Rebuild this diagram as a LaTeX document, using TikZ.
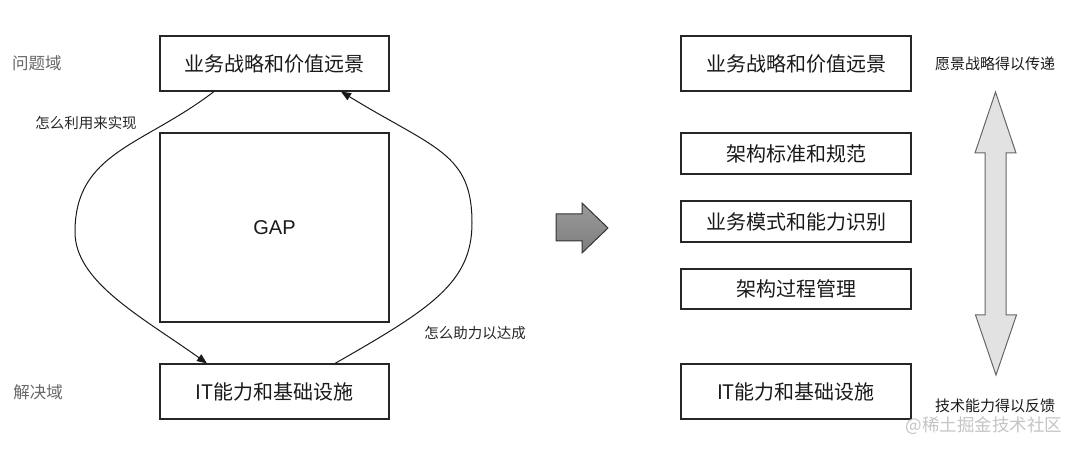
\documentclass[tikz,border=0pt]{standalone}
\usepackage{fontspec}
\setmainfont{Noto Sans CJK SC}
\newfontfamily\latinfont{Liberation Sans}
\usetikzlibrary{arrows.meta}
\definecolor{arrowtop}{HTML}{9A9A9A}
\definecolor{arrowbot}{HTML}{7E7E7E}
\definecolor{dblfill}{HTML}{E2E2E2}
\definecolor{dbledge}{HTML}{666666}
\definecolor{wmark}{HTML}{C4C4C4}
\begin{document}
\begin{tikzpicture}[x=1pt,y=-1pt,
  box/.style={draw=black!85, line width=1.1pt, minimum width=229pt, inner sep=0pt,
    font=\fontsize{20}{24}\selectfont, text=black!90},
  lbl/.style={font=\fontsize{14.5}{17}\selectfont, text=black!85, inner sep=0pt},
  dom/.style={font=\fontsize{16.5}{19}\selectfont, text=black!60, inner sep=0pt},
  conn/.style={line width=1pt, draw=black!90, -{Triangle[length=10pt,width=8pt]}}]
\useasboundingbox (0,0) rectangle (1080,449);

% left side
\node[box, minimum height=55pt] (ltop) at (274.5,63.5) {业务战略和价值远景};
\node[box, minimum height=189pt, font=\latinfont\fontsize{20}{24}\selectfont] (gap) at (274.5,227.5) {GAP};
\node[box, minimum height=55pt] (lbot) at (274.5,391.5) {IT能力和基础设施};

\node[dom] (prob) at (37,63) {问题域};
\node[dom] (sol) at (38,392) {解决域};
\node[lbl] (how1) at (86,123) {怎么利用来实现};
\node[lbl] (how2) at (475,333) {怎么助力以达成};

\draw[conn] ([xshift=-60.5pt]ltop.south) .. controls (143,146) and (75,152) .. (75,232)
  .. controls (75,282) and (142,317) .. ([xshift=-67.5pt]lbot.north);
\draw[conn] ([xshift=60.5pt]lbot.north) .. controls (430,309) and (472,283) .. (472,223)
  .. controls (472,153) and (435,149) .. ([xshift=66.5pt]ltop.south);

% middle block arrow
\shadedraw[top color=arrowtop, bottom color=arrowbot, draw=black!80, line width=1pt, line join=miter]
  (556,214) -- (582,214) -- (582,203) -- (608,228) -- (582,253) -- (582,241) -- (556,241) -- cycle;

% right side
\node[box, minimum width=230pt, minimum height=55pt] (rtop) at (796,63.5) {业务战略和价值远景};
\node[box, minimum width=230pt, minimum height=41pt] (r1) at (796,153.5) {架构标准和规范};
\node[box, minimum width=230pt, minimum height=41pt] (r2) at (796,221.5) {业务模式和能力识别};
\node[box, minimum width=230pt, minimum height=40pt] (r3) at (796,289) {架构过程管理};
\node[box, minimum width=230pt, minimum height=55pt] (rbot) at (796,391.5) {IT能力和基础设施};

% double arrow
\filldraw[fill=dblfill, draw=dbledge, line width=1pt, line join=miter]
  (995.5,92) -- (1016,153) -- (1006,153) -- (1006,315) -- (1016.5,315) -- (996,375)
  -- (975.5,315) -- (985,315) -- (985,153) -- (975,153) -- cycle;

\node[lbl, text=black!90, font=\fontsize{15}{18}\selectfont] (up) at (995,64) {愿景战略得以传递};
\node[lbl, text=black!90, font=\fontsize{15}{18}\selectfont] (down) at (995,406) {技术能力得以反馈};
\node[inner sep=0pt, text=wmark, font=\fontsize{17.5}{20}\selectfont] (wm) at (984,426) {@稀土掘金技术社区};
\end{tikzpicture}
\end{document}
